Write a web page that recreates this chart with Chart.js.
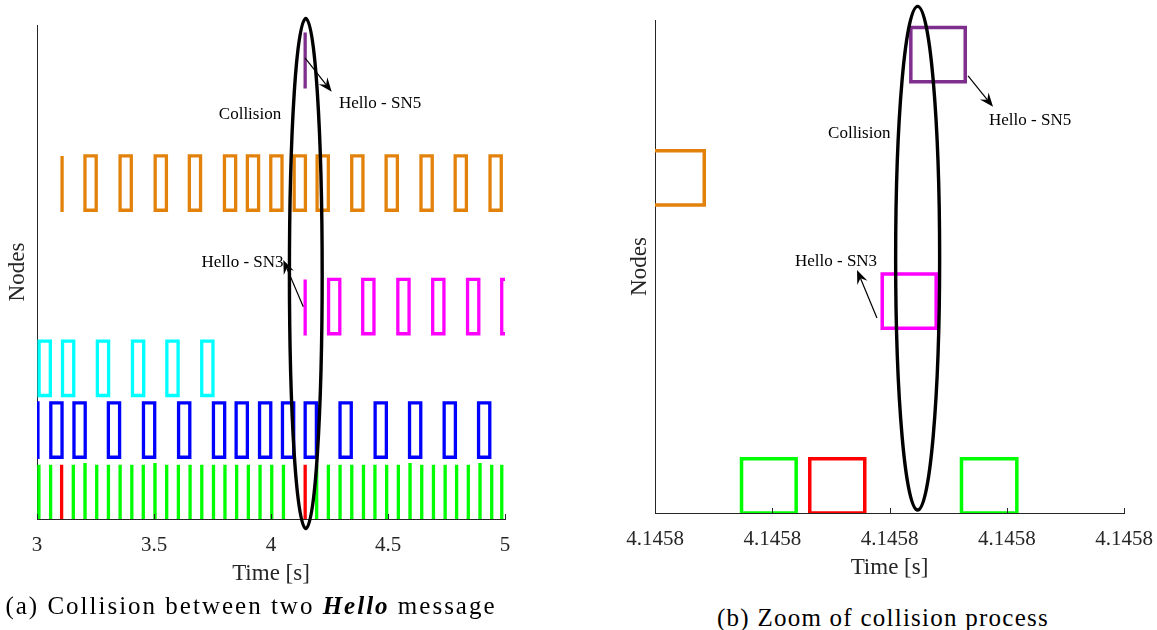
<!DOCTYPE html>
<html>
<head>
<meta charset="utf-8">
<script src="https://cdn.jsdelivr.net/npm/chart.js@4/dist/chart.umd.min.js"></script>
<style>
  html, body { margin: 0; padding: 0; background: #fff; }
  body { width: 1157px; height: 630px; position: relative; overflow: hidden; }
  .panel { position: absolute; top: 0; height: 600px; }
  #leftPanel { left: 0; width: 560px; }
  #rightPanel { left: 600px; width: 567px; }
  .caption {
    position: absolute; font-family: "Liberation Serif", "Times New Roman", serif;
    font-size: 25px; line-height: 25px; color: #000; white-space: nowrap;
    transform: translateX(-50%);
  }
</style>
</head>
<body>
<div class="panel" id="leftPanel"><canvas id="timeline"></canvas></div>
<div class="panel" id="rightPanel"><canvas id="zoomed"></canvas></div>
<div class="caption" style="left:251px; top:593px; letter-spacing:2px;">(a) Collision between two <b><i>Hello</i></b> message</div>
<div class="caption" style="left:883px; top:605px; letter-spacing:1.25px;">(b) Zoom of collision process</div>

<script>
// ---------- node rows (y level of each node's pulses) ----------
const LEVEL_GREEN = 0, LEVEL_BLUE = 1, LEVEL_CYAN = 2, LEVEL_MAGENTA = 3, LEVEL_ORANGE = 5, LEVEL_PURPLE = 7;
const PULSE_HEIGHT = 0.88;

// ---------- panel (a): 3 s .. 5 s ----------
const TIME_TICKS = [3, 3.5, 4, 4.5, 5];
const LONG_PULSE = 0.048;     // duration of the wide transmissions [s]
const SHORT_PULSE = 0.0004;   // short Hello bursts (drawn as a single stroke)

const greenBursts = [3.008, 3.058, 3.155, 3.205, 3.255, 3.305, 3.355, 3.405, 3.454, 3.504,
  3.554, 3.604, 3.654, 3.704, 3.754, 3.803, 3.853, 3.903, 3.953, 4.003, 4.053,
  4.195, 4.245, 4.295, 4.345, 4.395, 4.444, 4.494, 4.544, 4.594, 4.644, 4.694,
  4.744, 4.793, 4.843, 4.893, 4.943, 4.986];
const redBursts = [3.105, 4.1458];
const blueStarts = [2.956, 3.059, 3.158, 3.305, 3.455, 3.605, 3.754, 3.851, 3.951, 4.049,
  4.146, 4.295, 4.445, 4.592, 4.740, 4.887];
const cyanStarts = [3.009, 3.109, 3.258, 3.408, 3.555, 3.704];
const magentaBursts = [4.1458];
const magentaStarts = [4.246, 4.392, 4.542, 4.691, 4.840, 4.986];
const orangeBursts = [3.107];
const orangeStarts = [3.205, 3.355, 3.505, 3.651, 3.801, 3.899, 3.999, 4.099, 4.197, 4.345,
  4.492, 4.641, 4.787, 4.936];
const purpleBursts = [4.1458];

// collision ring [centre t, centre y, radius t, radius y] and notes
const RING_A = [4.1487, 3.976, 0.070, 4.13];
const NOTES_A = [['Collision', 3.9103, 6.543, 'center'],
                 ['Hello - SN5', 4.2906, 6.721, 'left'],
                 ['Hello - SN3', 3.8782, 4.146, 'center']];
const ARROWS_A = [[4.1453, 7.466, 4.2594, 6.920],
                  [4.1380, 3.438, 4.0526, 4.194]];

// ---------- panel (b): zoom around t = 4.1458 s ----------
const ZOOM_TICKS = [4.14578, 4.14579, 4.14580, 4.14581, 4.14582];
const zGreenStart = [4.14578738, 4.14580614];
const zGreenEnd   = [4.14579204, 4.14581086];
const zRedStart = [4.14579320];
const zRedEnd   = [4.14579789];
const zMagentaStart = [4.14579938];
const zMagentaEnd   = [4.14580398];
const zOrangeStart = [4.14577955];
const zOrangeEnd   = [4.14578420];
const zPurpleStart = [4.14580182];
const zPurpleEnd   = [4.14580646];

const RING_B = [4.1458024, 4.135, 0.000001876, 4.086];
const NOTES_B = [['Collision', 4.14579742, 6.153, 'center'],
                 ['Hello - SN5', 4.14580849, 6.364, 'left'],
                 ['Hello - SN3', 4.14579544, 4.075, 'center']];
const ARROWS_B = [[4.1458067, 7.094, 4.14580883, 6.591],
                  [4.14579893, 3.166, 4.14579723, 3.945]];

// ---------- styling ----------
const SERIF = "'Liberation Serif', 'Times New Roman', serif";
const AXIS_COLOR = '#262626';
const C_GREEN = '#00ff00', C_RED = '#ff0000', C_BLUE = '#0000ff', C_CYAN = '#00ffff',
      C_MAGENTA = '#ff00ff', C_ORANGE = '#e3820b', C_PURPLE = '#7e2f8e';

// closed rectangle outline for every pulse, broken by gaps between pulses
function outline(starts, ends, level) {
  const pts = [];
  starts.forEach((s, i) => {
    const e = ends[i], top = level + PULSE_HEIGHT;
    pts.push({x: s, y: level}, {x: s, y: top}, {x: e, y: top}, {x: e, y: level}, {x: s, y: level});
    pts.push({x: s, y: null});
  });
  return pts;
}
const plus = (arr, d) => arr.map(s => s + d);

function series(data, color, width) {
  return {
    data, borderColor: color, backgroundColor: color, borderWidth: width,
    pointRadius: 0, tension: 0, spanGaps: false,
    borderJoinStyle: 'miter', borderCapStyle: 'square', fill: false
  };
}

// draws the collision ring, the notes and arrows in data coordinates
const notesPlugin = {
  id: 'notes',
  afterDraw(chart, args, opts) {
    const {ctx, scales: {x, y}, chartArea} = chart;
    ctx.save();
    // inward tick marks on the time axis
    ctx.strokeStyle = AXIS_COLOR; ctx.lineWidth = 1;
    x.ticks.forEach(t => {
      const px = Math.round(x.getPixelForValue(t.value)) + 0.5;
      ctx.beginPath(); ctx.moveTo(px, chartArea.bottom); ctx.lineTo(px, chartArea.bottom - 5); ctx.stroke();
    });
    // ring
    const [cx, cy, rx, ry] = opts.ring;
    const pcx = x.getPixelForValue(cx), pcy = y.getPixelForValue(cy);
    const prx = Math.abs(x.getPixelForValue(cx + rx) - pcx);
    const pry = Math.abs(y.getPixelForValue(cy + ry) - pcy);
    ctx.strokeStyle = '#000'; ctx.lineWidth = 3.4;
    ctx.beginPath(); ctx.ellipse(pcx, pcy, prx, pry, 0, 0, Math.PI * 2); ctx.stroke();
    // notes
    ctx.fillStyle = '#000';
    ctx.font = '17px ' + SERIF;
    ctx.textBaseline = 'middle';
    opts.notes.forEach(([txt, tx, ty, align]) => {
      ctx.textAlign = align;
      ctx.fillText(txt, x.getPixelForValue(tx), y.getPixelForValue(ty));
    });
    // arrows
    opts.arrows.forEach(([x0, y0, x1, y1]) => {
      const ax = x.getPixelForValue(x0), ay = y.getPixelForValue(y0);
      const bx = x.getPixelForValue(x1), by = y.getPixelForValue(y1);
      const ang = Math.atan2(by - ay, bx - ax), c = Math.cos(ang), s = Math.sin(ang);
      const L = 14, W = 5.5, notch = 9;
      ctx.strokeStyle = '#000'; ctx.lineWidth = 1.2;
      ctx.beginPath(); ctx.moveTo(ax, ay); ctx.lineTo(bx - notch * c, by - notch * s); ctx.stroke();
      const hx = bx - L * c, hy = by - L * s;
      ctx.beginPath();
      ctx.moveTo(bx, by);
      ctx.lineTo(hx - W * s, hy + W * c);
      ctx.lineTo(bx - notch * c, by - notch * s);
      ctx.lineTo(hx + W * s, hy - W * c);
      ctx.closePath(); ctx.fill();
    });
    ctx.restore();
  }
};

function scales(xMin, xMax, ticks, fmt, yWidth) {
  return {
    x: {
      type: 'linear', min: xMin, max: xMax,
      afterBuildTicks: s => { s.ticks = ticks.map(v => ({value: v})); },
      afterFit: s => { s.height = 70; },
      grid: {display: false, drawTicks: false},
      border: {display: true, color: AXIS_COLOR, width: 1},
      ticks: {color: AXIS_COLOR, font: {family: SERIF, size: 21}, padding: 14,
              maxRotation: 0, autoSkip: false, callback: v => fmt(v)},
      title: {display: true, text: 'Time [s]', color: AXIS_COLOR,
              font: {family: SERIF, size: 23}, padding: {top: 0, bottom: 1}}
    },
    y: {
      type: 'linear', min: 0, max: 8,
      afterFit: s => { s.width = yWidth; },
      grid: {display: false, drawTicks: false},
      border: {display: true, color: AXIS_COLOR, width: 1},
      ticks: {display: false},
      title: {display: true, text: 'Nodes', color: AXIS_COLOR,
              font: {family: SERIF, size: 23}, padding: {top: 4, bottom: 0}}
    }
  };
}

const common = {
  responsive: true, maintainAspectRatio: false, animation: false, devicePixelRatio: 1,
  plugins: {legend: {display: false}, tooltip: {enabled: false}},
  events: []
};

new Chart(document.getElementById('timeline'), {
  type: 'line',
  data: {datasets: [
    series(outline(redBursts, plus(redBursts, SHORT_PULSE), LEVEL_GREEN), C_RED, 3.3),
    series(outline(greenBursts, plus(greenBursts, SHORT_PULSE), LEVEL_GREEN), C_GREEN, 3.3),
    series(outline(blueStarts, plus(blueStarts, LONG_PULSE), LEVEL_BLUE), C_BLUE, 3.3),
    series(outline(cyanStarts, plus(cyanStarts, LONG_PULSE), LEVEL_CYAN), C_CYAN, 3.3),
    series(outline(magentaBursts, plus(magentaBursts, SHORT_PULSE), LEVEL_MAGENTA)
      .concat(outline(magentaStarts, plus(magentaStarts, LONG_PULSE), LEVEL_MAGENTA)), C_MAGENTA, 3.3),
    series(outline(orangeBursts, plus(orangeBursts, SHORT_PULSE), LEVEL_ORANGE)
      .concat(outline(orangeStarts, plus(orangeStarts, LONG_PULSE), LEVEL_ORANGE)), C_ORANGE, 3.3),
    series(outline(purpleBursts, plus(purpleBursts, SHORT_PULSE), LEVEL_PURPLE), C_PURPLE, 3.3)
  ]},
  options: Object.assign({}, common, {
    layout: {padding: {left: 0, top: 25, right: 55, bottom: 11}},
    scales: scales(3, 5, TIME_TICKS, v => String(v), 37),
    plugins: Object.assign({}, common.plugins, {notes: {ring: RING_A, notes: NOTES_A, arrows: ARROWS_A}})
  }),
  plugins: [notesPlugin]
});

new Chart(document.getElementById('zoomed'), {
  type: 'line',
  data: {datasets: [
    series(outline(zRedStart, zRedEnd, LEVEL_GREEN), C_RED, 3.5),
    series(outline(zGreenStart, zGreenEnd, LEVEL_GREEN), C_GREEN, 3.5),
    series(outline(zMagentaStart, zMagentaEnd, LEVEL_MAGENTA), C_MAGENTA, 3.5),
    series(outline(zOrangeStart, zOrangeEnd, LEVEL_ORANGE), C_ORANGE, 3.5),
    series(outline(zPurpleStart, zPurpleEnd, LEVEL_PURPLE), C_PURPLE, 3.5)
  ]},
  options: Object.assign({}, common, {
    layout: {padding: {left: 22, top: 20, right: 43, bottom: 17}},
    scales: scales(ZOOM_TICKS[0], ZOOM_TICKS[ZOOM_TICKS.length - 1], ZOOM_TICKS, v => v.toFixed(4), 33),
    plugins: Object.assign({}, common.plugins, {notes: {ring: RING_B, notes: NOTES_B, arrows: ARROWS_B}})
  }),
  plugins: [notesPlugin]
});
</script>
</body>
</html>
